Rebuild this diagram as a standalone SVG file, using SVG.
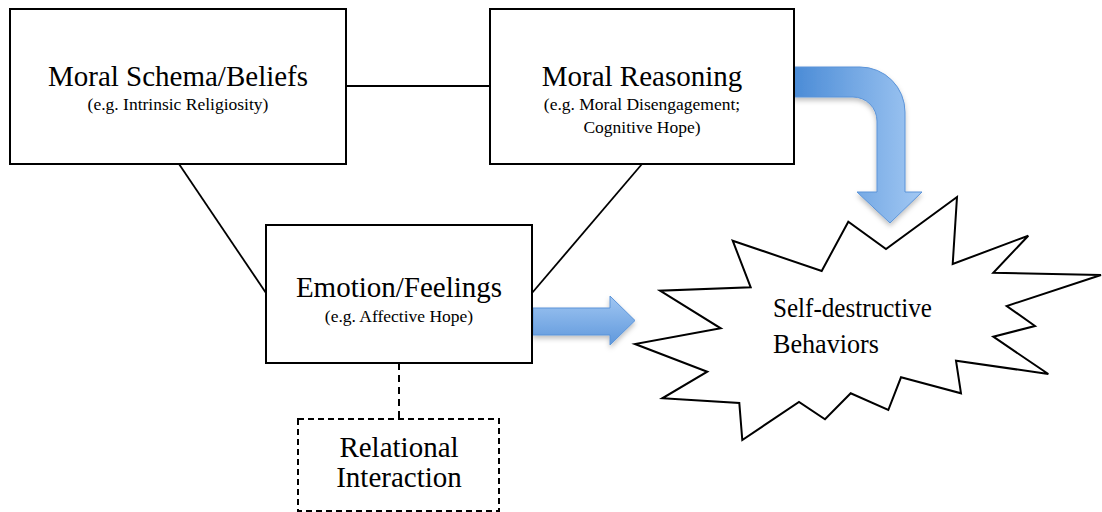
<svg xmlns="http://www.w3.org/2000/svg" width="1102" height="512" viewBox="0 0 1102 512">
  <defs>
    <linearGradient id="bendFill" gradientUnits="userSpaceOnUse" x1="793" y1="0" x2="922" y2="0">
      <stop offset="0" stop-color="#4a8bd6"/>
      <stop offset="1" stop-color="#a2c8f3"/>
    </linearGradient>
    <linearGradient id="rightFill" x1="0" y1="0" x2="0" y2="1">
      <stop offset="0" stop-color="#a0c6f2"/>
      <stop offset="1" stop-color="#5f98dc"/>
    </linearGradient>
    <filter id="softShadow" x="-20%" y="-20%" width="140%" height="140%">
      <feDropShadow dx="0" dy="3" stdDeviation="2.5" flood-color="#000" flood-opacity="0.25"/>
    </filter>
  </defs>
  <style>
    .box { fill: #fff; stroke: #000; stroke-width: 2; }
    .dash { fill: #fff; stroke: #000; stroke-width: 2; stroke-dasharray: 6 4; }
    .link { stroke: #000; stroke-width: 1.8; fill: none; }
    .dlink { stroke: #000; stroke-width: 2; stroke-dasharray: 7 5; fill: none; }
    .title { font-family: "Liberation Serif", "Times New Roman", serif; font-size: 29px; fill: #000; text-anchor: middle; }
    .sub { font-family: "Liberation Serif", "Times New Roman", serif; font-size: 17.5px; fill: #000; text-anchor: middle; }
    .burst { fill: #fff; stroke: #000; stroke-width: 2; stroke-linejoin: miter; }
    .burstText { font-family: "Liberation Serif", "Times New Roman", serif; font-size: 27px; fill: #000; }
    .arrow { stroke: #5a93d8; stroke-width: 1; filter: url(#softShadow); }
  </style>

  <!-- connectors -->
  <g id="connectors">
    <line class="link" x1="346" y1="86" x2="490" y2="86"/>
    <line class="link" x1="179" y1="164" x2="266" y2="293"/>
    <line class="link" x1="642" y1="164" x2="532" y2="293"/>
    <line class="dlink" x1="399" y1="363" x2="399" y2="419"/>
    <path class="arrow" fill="url(#bendFill)" d="M 793 67 L 860 67 A 45 45 0 0 1 905 112 L 905 192 L 922 192 L 890 223 L 857 192 L 877 192 L 877 121 A 24 24 0 0 0 853 97 L 793 97 Z"/>
    <path class="arrow" fill="url(#rightFill)" d="M 533 308 L 610 308 L 610 296 L 635 320.5 L 610 345 L 610 335 L 533 335 Z"/>
  </g>

  <!-- nodes -->
  <g id="moral-schema">
    <rect class="box" x="10" y="9" width="336" height="155"/>
    <text class="title" x="178" y="86">Moral Schema/Beliefs</text>
    <text class="sub" x="178" y="110">(e.g. Intrinsic Religiosity)</text>
  </g>

  <g id="moral-reasoning">
    <rect class="box" x="490" y="9" width="304" height="155"/>
    <text class="title" x="642" y="86">Moral Reasoning</text>
    <text class="sub" x="642" y="110">(e.g. Moral Disengagement;</text>
    <text class="sub" x="642" y="133">Cognitive Hope)</text>
  </g>

  <g id="emotion-feelings">
    <rect class="box" x="266" y="225" width="266" height="138"/>
    <text class="title" x="399" y="297">Emotion/Feelings</text>
    <text class="sub" x="399" y="322">(e.g. Affective Hope)</text>
  </g>

  <g id="relational-interaction">
    <rect class="dash" x="298" y="419" width="201" height="92"/>
    <text class="title" x="399" y="457" font-size="28">Relational</text>
    <text class="title" x="399" y="487" font-size="28">Interaction</text>
  </g>

  <g id="self-destructive">
    <polygon class="burst" points="732.7,240.7 821.7,271 848.3,221.7 886,249 957,197 952.7,264 1028.3,235.7 993.3,272.7 1101,275 1006.7,306 1035,326 993.3,336.7 1048.3,374 956,360.7 961,393.3 901,377.3 888.3,410 850.7,393.3 825,419.3 799,402 742.3,440 739.3,403 662.3,398.3 707.3,371.7 635,344 720.7,328.3 660,290.7 750.7,287.3"/>
    <text class="burstText" x="773" y="317" textLength="159" lengthAdjust="spacingAndGlyphs">Self-destructive</text>
    <text class="burstText" x="773" y="353" textLength="106" lengthAdjust="spacingAndGlyphs">Behaviors</text>
  </g>
</svg>
